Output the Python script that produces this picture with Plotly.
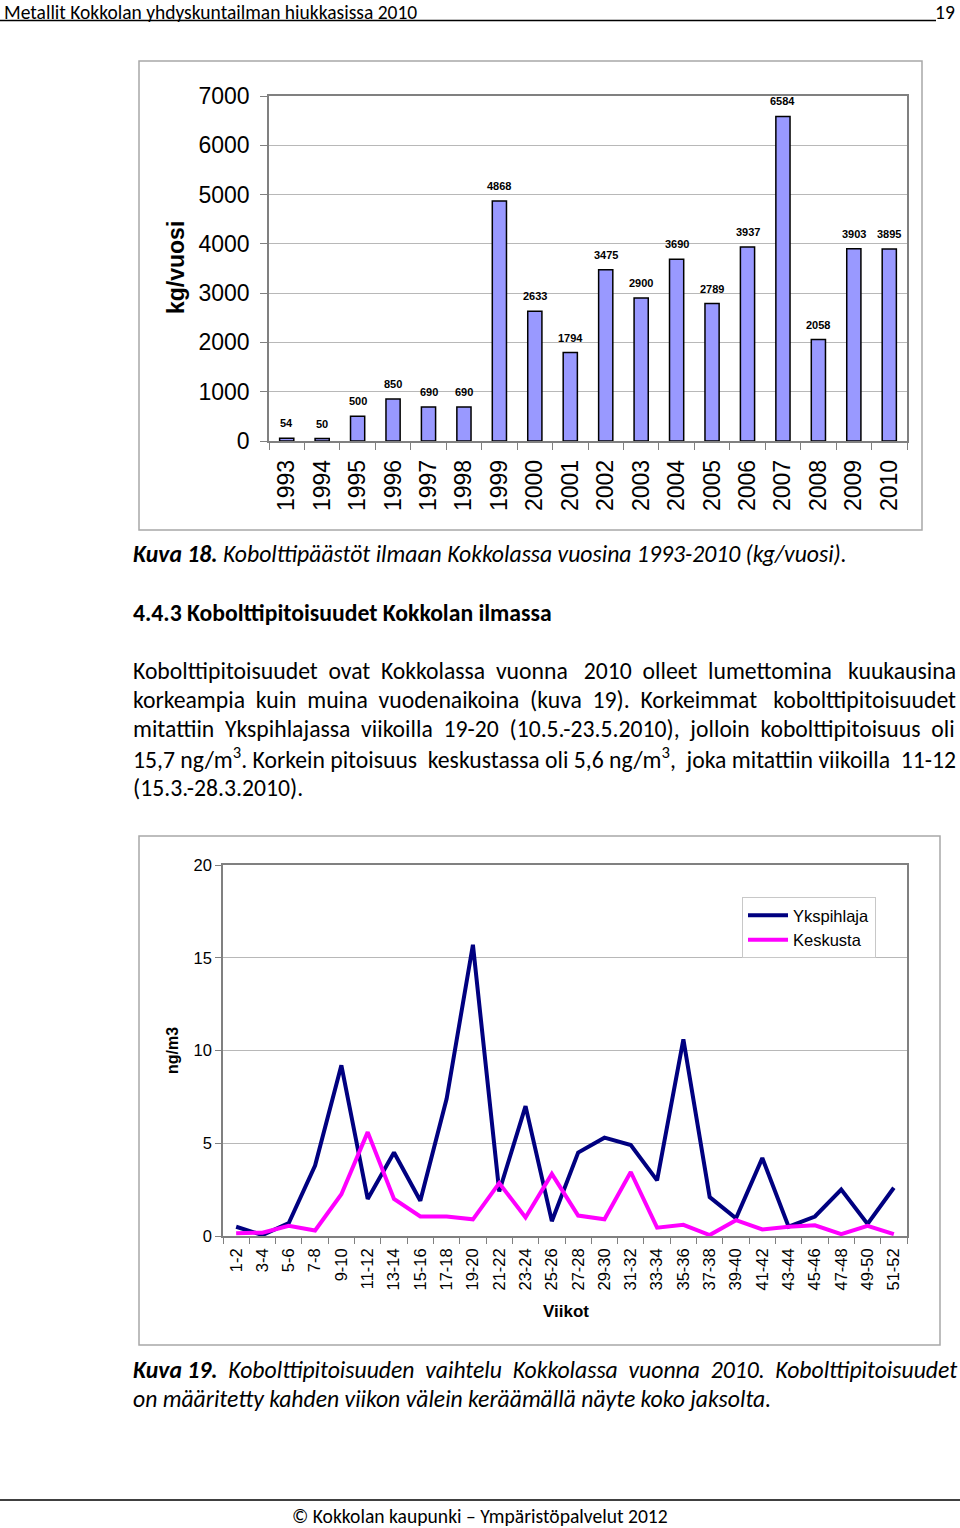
import plotly.graph_objects as go

# ---------------- data ----------------
years = ["1993", "1994", "1995", "1996", "1997", "1998", "1999", "2000", "2001",
         "2002", "2003", "2004", "2005", "2006", "2007", "2008", "2009", "2010"]
emissions = [54, 50, 500, 850, 690, 690, 4868, 2633, 1794,
             3475, 2900, 3690, 2789, 3937, 6584, 2058, 3903, 3895]

weeks = ["1-2", "3-4", "5-6", "7-8", "9-10", "11-12", "13-14", "15-16", "17-18",
         "19-20", "21-22", "23-24", "25-26", "27-28", "29-30", "31-32", "33-34",
         "35-36", "37-38", "39-40", "41-42", "43-44", "45-46", "47-48", "49-50", "51-52"]
ykspihlaja = [0.5, 0.05, 0.7, 3.8, 9.2, 2.0, 4.5, 1.9, 7.4, 15.7, 2.4, 7.0, 0.8,
              4.5, 5.3, 4.9, 3.0, 10.6, 2.1, 0.95, 4.2, 0.5, 1.05, 2.5, 0.65, 2.6]
keskusta = [0.15, 0.18, 0.55, 0.3, 2.25, 5.6, 2.0, 1.05, 1.05, 0.9, 2.85, 1.0, 3.35,
            1.1, 0.9, 3.45, 0.45, 0.6, 0.05, 0.85, 0.35, 0.5, 0.58, 0.1, 0.55, 0.1]

W, H = 960, 1528
CHART_FONT = "Liberation Sans, Arial, sans-serif"
DOC_FONT = "Carlito, Lato, sans-serif"
DOC_SIZE = 23.7


def px(x):
    return x / W


def py(y):
    return 1 - y / H


def widen(line, extra):
    """Spread `extra` additional spaces evenly over the word gaps (imitates justified text)."""
    words = line.split(" ")
    gaps = len(words) - 1
    if gaps <= 0:
        return line
    counts = [((i + 1) * extra) // gaps - (i * extra) // gaps for i in range(gaps)]
    out = words[0]
    for i, w in enumerate(words[1:]):
        out += " " + "\u00a0" * counts[i] + w
    return out


fig = go.Figure()

fig.add_trace(go.Bar(
    x=years, y=emissions, xaxis="x", yaxis="y",
    marker=dict(color="#9999ff", line=dict(color="#000000", width=1.5)),
    showlegend=False, hoverinfo="x+y"))

fig.add_trace(go.Scatter(
    x=weeks, y=ykspihlaja, xaxis="x2", yaxis="y2", mode="lines",
    name="Ykspihlaja", line=dict(color="#000080", width=4)))
fig.add_trace(go.Scatter(
    x=weeks, y=keskusta, xaxis="x2", yaxis="y2", mode="lines",
    name="Keskusta", line=dict(color="#ff00ff", width=4)))

annotations = []
# bar value labels (x given as category index)
for i, v in enumerate(emissions):
    annotations.append(dict(x=i, y=v, xref="x", yref="y", text=str(v), showarrow=False,
                            yshift=15, font=dict(family=CHART_FONT, size=11, color="#000", weight="bold")))


def doc_text(text, x, y, size=DOC_SIZE, anchor="left"):
    annotations.append(dict(x=px(x), y=py(y), xref="paper", yref="paper", text=text,
                            showarrow=False, xanchor=anchor, yanchor="middle",
                            font=dict(family=DOC_FONT, size=size, color="#000")))


doc_text("Metallit Kokkolan yhdyskuntailman hiukkasissa 2010", 2, 12.5, size=19.5)
doc_text("19", 957, 12.5, size=19.5, anchor="right")
doc_text("<i><b>Kuva 18.</b> Kobolttipäästöt ilmaan Kokkolassa vuosina 1993-2010 (kg/vuosi).</i>", 131, 554)
doc_text("<b>4.4.3 Kobolttipitoisuudet Kokkolan ilmassa</b>", 131, 612)
para = [
    "Kobolttipitoisuudet ovat Kokkolassa vuonna 2010 olleet lumettomina kuukausina",
    "korkeampia kuin muina vuodenaikoina (kuva 19). Korkeimmat kobolttipitoisuudet",
    "mitattiin Ykspihlajassa viikoilla 19-20 (10.5.-23.5.2010), jolloin kobolttipitoisuus oli",
    "15,7 ng/m<sup>3</sup>. Korkein pitoisuus keskustassa oli 5,6 ng/m<sup>3</sup>, joka mitattiin viikoilla 11-12",
    "(15.3.-28.3.2010).",
]
para_extra = [9, 8, 7, 3, 0]
for i, line in enumerate(para):
    doc_text(widen(line, para_extra[i]), 131, 670.5 + i * 29.2)
doc_text("<i>" + widen("<b>Kuva 19.</b> Kobolttipitoisuuden vaihtelu Kokkolassa vuonna 2010. Kobolttipitoisuudet", 6) + "</i>", 131, 1369)
doc_text("<i>on määritetty kahden viikon välein keräämällä näyte koko jaksolta.</i>", 131, 1398)
doc_text("© Kokkolan kaupunki – Ympäristöpalvelut 2012", 480, 1516, size=19.6, anchor="center")

# axis titles
annotations.append(dict(x=px(176), y=py(268), xref="paper", yref="paper", text="<b>kg/vuosi</b>",
                        textangle=-90, showarrow=False, xanchor="center", yanchor="middle",
                        font=dict(family=CHART_FONT, size=23, color="#000")))
annotations.append(dict(x=px(172), y=py(1051), xref="paper", yref="paper", text="<b>ng/m3</b>",
                        textangle=-90, showarrow=False, xanchor="center", yanchor="middle",
                        font=dict(family=CHART_FONT, size=16, color="#000")))
annotations.append(dict(x=px(566), y=py(1311), xref="paper", yref="paper", text="<b>Viikot</b>",
                        showarrow=False, xanchor="center", yanchor="middle",
                        font=dict(family=CHART_FONT, size=17, color="#000")))

shapes = [
    dict(type="rect", xref="paper", yref="paper", x0=px(139), x1=px(922), y0=py(61), y1=py(530),
         line=dict(color="#a8a8a8", width=1.5), layer="below"),
    dict(type="rect", xref="paper", yref="paper", x0=px(139), x1=px(940), y0=py(836), y1=py(1345),
         line=dict(color="#a8a8a8", width=1.5), layer="below"),
    dict(type="line", xref="paper", yref="paper", x0=0, x1=px(936), y0=py(20.5), y1=py(20.5),
         line=dict(color="#000", width=1.5)),
    dict(type="line", xref="paper", yref="paper", x0=0, x1=1, y0=py(1500), y1=py(1500),
         line=dict(color="#000", width=1.5)),
]

axis_common = dict(showline=True, mirror=True, linecolor="#808080", linewidth=1.5,
                   ticks="outside", tickcolor="#808080", ticklen=7, tickwidth=1)

fig.update_layout(
    width=W, height=H,
    margin=dict(l=0, r=0, t=0, b=0, autoexpand=False),
    paper_bgcolor="white", plot_bgcolor="white",
    bargap=0.6,
    xaxis=dict(domain=[px(269), px(907)], anchor="y", type="category", tickson="boundaries",
               range=[-0.5, len(years) - 0.5], tickangle=-90, showgrid=False, ticklabelstandoff=8,
               tickfont=dict(family=CHART_FONT, size=23, color="#000"), **axis_common),
    yaxis=dict(domain=[py(441), py(96)], anchor="x", range=[0, 7000], tickvals=list(range(0, 7001, 1000)),
               showgrid=True, gridcolor="#b8b8b8", gridwidth=1, zeroline=False, ticklabelstandoff=6,
               tickfont=dict(family=CHART_FONT, size=23, color="#000"), **axis_common),
    xaxis2=dict(domain=[px(223), px(907)], anchor="y2", type="category", tickson="boundaries",
                range=[-0.5, len(weeks) - 0.5], tickangle=-90, showgrid=False, ticklabelstandoff=4,
                tickfont=dict(family=CHART_FONT, size=16.5, color="#000"),
                **{**axis_common, "ticklen": 6}),
    yaxis2=dict(domain=[py(1236), py(865)], anchor="x2", range=[0, 20], tickvals=[0, 5, 10, 15, 20],
                showgrid=True, gridcolor="#b8b8b8", gridwidth=1, zeroline=False,
                tickfont=dict(family=CHART_FONT, size=16.5, color="#000"),
                **{**axis_common, "ticklen": 6}),
    legend=dict(x=px(742), y=py(897), xanchor="left", yanchor="top", bgcolor="white",
                bordercolor="#c8c8c8", borderwidth=1, itemwidth=40, tracegroupgap=0,
                font=dict(family=CHART_FONT, size=16.5, color="#000")),
    annotations=annotations,
    shapes=shapes,
)

fig.write_html("out.html", config={"displayModeBar": False},
               post_script="document.body.style.margin='0';")
